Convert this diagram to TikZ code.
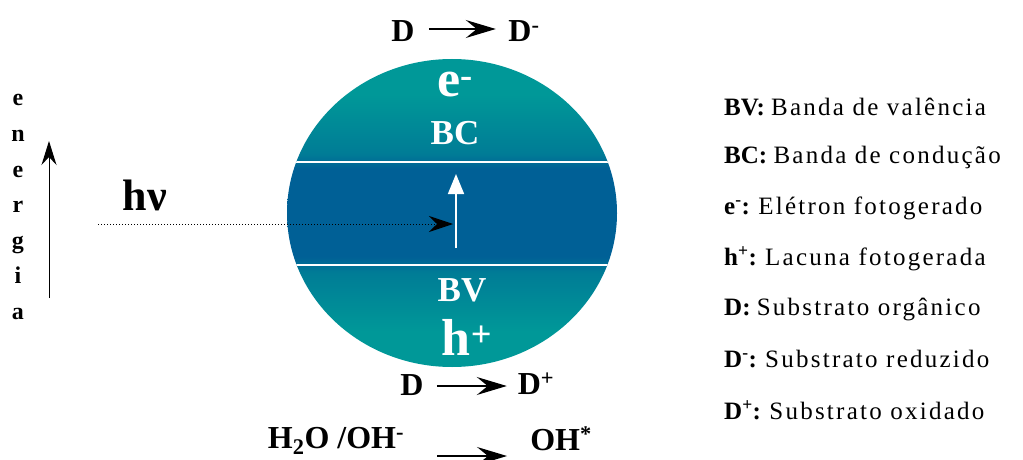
\documentclass[tikz,border=0pt]{standalone}
\usepackage{fontspec}
\setmainfont{Liberation Serif}
\newfontfamily\legfont[LetterSpace=9]{Liberation Serif}
\usetikzlibrary{arrows.meta}
\definecolor{tealband}{RGB}{0,152,152}
\definecolor{tealmid}{RGB}{0,124,150}
\definecolor{blueband}{RGB}{0,96,150}
\pgfdeclareverticalshading{particle}{100bp}{color(0bp)=(tealband); color(31bp)=(tealband);
    color(40.5bp)=(tealmid); color(43bp)=(blueband); color(57bp)=(blueband);
    color(59.5bp)=(tealmid); color(69bp)=(tealband); color(100bp)=(tealband)}
\begin{document}
\begin{tikzpicture}[x=1pt,y=1pt,
        reac/.style={font=\bfseries\fontsize{32}{32}\selectfont,inner sep=1pt},
        band/.style={font=\bfseries\fontsize{35}{35}\selectfont,text=white,inner sep=1pt},
        carrier/.style={font=\bfseries\fontsize{52}{52}\selectfont,text=white,inner sep=1pt},
        leg/.style={font=\fontsize{25}{25}\selectfont,anchor=west,inner sep=0pt},
        vert/.style={font=\bfseries\fontsize{24}{24}\selectfont,anchor=base,inner sep=0pt},
        rarrow/.style={line width=1.3pt,-{Stealth[length=30pt,width=18pt,inset=11pt]}}]
    \useasboundingbox (0,0) rectangle (1023,459);

    % particle
    \begin{scope}
        \clip (452,246) ellipse [x radius=165,y radius=154];
        \shade[shading=particle] (280,90) rectangle (625,402);
        \draw[white,line width=1.6pt] (280,297) -- (625,297);
        \draw[white,line width=1.6pt] (280,194) -- (625,194);
    \end{scope}

    \node[carrier] (el) at (455,374) {e\textsuperscript{-}};
    \node[band] (bc) at (455,326) {BC};
    \node[band] (bv) at (462,169) {BV};
    \node[carrier] (ho) at (467,122) {h\textsuperscript{+}};

    % excitation
    \coordinate (exbot) at (456,211);
    \coordinate (extop) at (456,285);
    \draw[white,line width=1.6pt,-{Triangle[length=20pt,width=16pt]}] (exbot) -- (extop);

    \node[font=\bfseries\fontsize{44}{44}\selectfont] (hv) at (145,264) {hν};
    \coordinate (hvin) at (98,235);
    \coordinate (hvout) at (453,235);
    \draw[dotted,line width=1pt,-{Stealth[length=24pt,width=16pt,inset=8pt]}] (hvin) -- (hvout);

    % energia
    \foreach \c [count=\i] in {e,n,e,r,g,i,a}
        \node[vert] (en\i) at (18,{353-35.5*(\i-1)}) {\c};
    \coordinate (ebot) at (49,161);
    \coordinate (etop) at (49,318);
    \draw[line width=1pt,-{Stealth[length=24pt,width=15pt,inset=8pt]}] (ebot) -- (etop);

    % reactions
    \node[reac] (d1) at (403,428) {D};
    \node[reac] (d1m) at (524,428) {D\textsuperscript{-}};
    \draw[rarrow] (d1.east) ++(13,2) coordinate (a1) -- ++(67,0);
    \node[reac] (d2) at (412,74) {D};
    \node[reac] (d2p) at (536,75) {D\textsuperscript{+}};
    \draw[rarrow] (d2.east) ++(12,-1) coordinate (a2) -- ++(70,0);
    \node[reac] (wat) at (336,18) {H\textsubscript{2}O /OH\textsuperscript{-}};
    \node[reac] (ohr) at (561,20) {OH\textsuperscript{*}};
    \coordinate (w1) at (437,3);
    \coordinate (w2) at (507,3);
    \draw[rarrow] (w1) -- (w2);

    % legenda
    \foreach \k/\t [count=\i] in {BV/Banda de valência, BC/Banda de condução,
        e\textsuperscript{-}/Elétron fotogerado, h\textsuperscript{+}/Lacuna fotogerada,
        D/Substrato orgânico, D\textsuperscript{-}/Substrato reduzido,
        D\textsuperscript{+}/Substrato oxidado}
        \node[leg] (leg\i) at (724,{402.5-50.5*\i}) {\textbf{\k:} {\legfont\t}};
\end{tikzpicture}
\end{document}
